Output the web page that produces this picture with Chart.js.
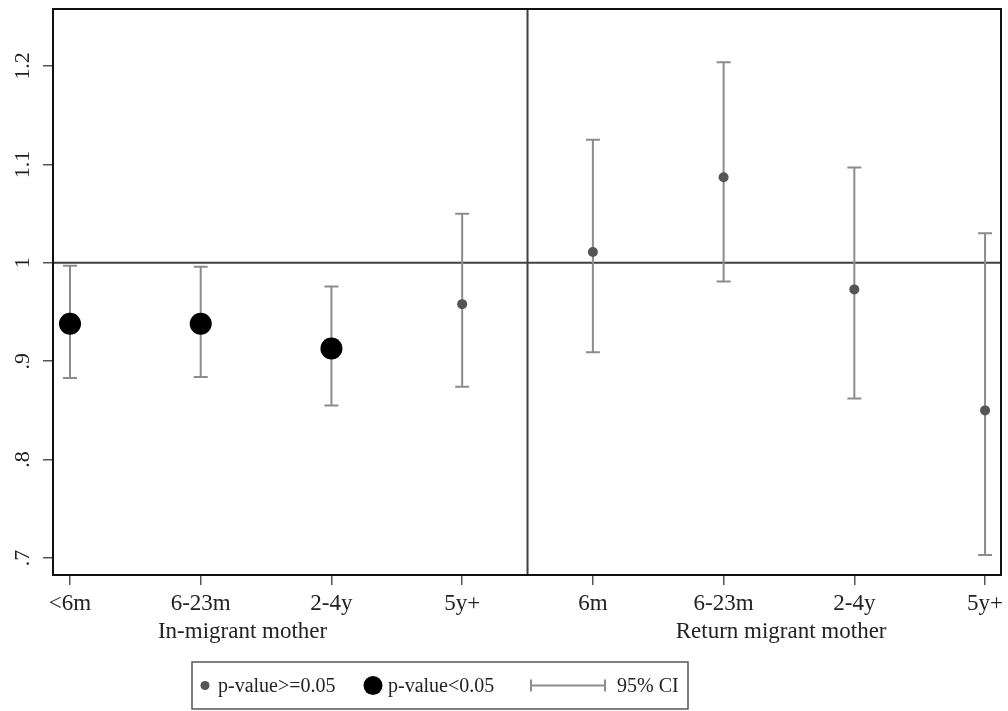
<!DOCTYPE html>
<html lang="en">
<head>
    <meta charset="UTF-8">
    <title>Odds ratios by mother's migration status</title>
    <script src="https://cdnjs.cloudflare.com/ajax/libs/Chart.js/4.4.1/chart.umd.min.js"></script>
    <style>
        body { margin: 0; background: #ffffff; }
        .wrap { position: relative; width: 1008px; height: 711px; }
    </style>
</head>
<body>
    <div class="wrap">
        <canvas id="chart" width="1008" height="711"></canvas>
    </div>

    <script>
        // Categories and estimates
        const categories = ['<6m', '6-23m', '2-4y', '5y+', '6m', '6-23m', '2-4y', '5y+'];
        const estimates = [0.938, 0.938, 0.913, 0.958, 1.011, 1.087, 0.973, 0.850];
        const ciLow = [0.883, 0.884, 0.855, 0.874, 0.909, 0.981, 0.862, 0.703];
        const ciHigh = [0.997, 0.996, 0.976, 1.050, 1.125, 1.204, 1.097, 1.030];
        const significant = [true, true, true, false, false, false, false, false];

        const yTickValues = [0.7, 0.8, 0.9, 1.0, 1.1, 1.2];
        const yTickLabels = ['.7', '.8', '.9', '1', '1.1', '1.2'];

        const groupLabels = ['In-migrant mother', 'Return migrant mother'];
        const groupCenters = [2.32, 6.44];
        const dividerAt = 4.5;
        const refLine = 1;

        const serif = "'Liberation Serif', 'DejaVu Serif', serif";
        const ciColor = '#8c8c8c';

        const xs = categories.map((c, i) => i + 1);
        const sigPoints = [], nonSigPoints = [];
        xs.forEach((x, i) => {
            (significant[i] ? sigPoints : nonSigPoints).push({ x: x, y: estimates[i] });
        });

        // error bars, reference lines, frame, y labels, group labels, legend
        const extras = {
            id: 'extras',
            beforeDatasetsDraw(chart) {
                const { ctx, chartArea: a, scales: { x, y } } = chart;
                ctx.save();
                // reference lines
                ctx.strokeStyle = '#404040';
                ctx.lineWidth = 2;
                ctx.beginPath();
                ctx.moveTo(a.left, y.getPixelForValue(refLine));
                ctx.lineTo(a.right, y.getPixelForValue(refLine));
                ctx.moveTo(x.getPixelForValue(dividerAt), a.top);
                ctx.lineTo(x.getPixelForValue(dividerAt), a.bottom);
                ctx.stroke();
                // confidence intervals
                ctx.strokeStyle = ciColor;
                ctx.lineWidth = 2;
                xs.forEach((v, i) => {
                    const px = x.getPixelForValue(v);
                    const top = y.getPixelForValue(ciHigh[i]);
                    const bot = y.getPixelForValue(ciLow[i]);
                    ctx.beginPath();
                    ctx.moveTo(px, top); ctx.lineTo(px, bot);
                    ctx.moveTo(px - 7, top); ctx.lineTo(px + 7, top);
                    ctx.moveTo(px - 7, bot); ctx.lineTo(px + 7, bot);
                    ctx.stroke();
                });
                ctx.restore();
            },
            afterDraw(chart) {
                const { ctx, chartArea: a, scales: { x, y } } = chart;
                ctx.save();
                // frame
                ctx.strokeStyle = '#111';
                ctx.lineWidth = 2;
                ctx.strokeRect(a.left, a.top, a.right - a.left, a.bottom - a.top);
                // y tick labels, rotated
                ctx.fillStyle = '#222';
                ctx.font = '22px ' + serif;
                ctx.textAlign = 'center';
                ctx.textBaseline = 'middle';
                yTickValues.forEach((v, i) => {
                    ctx.save();
                    ctx.translate(23, y.getPixelForValue(v));
                    ctx.rotate(-Math.PI / 2);
                    ctx.fillText(yTickLabels[i], 0, 0);
                    ctx.restore();
                });
                // group labels
                ctx.font = '23px ' + serif;
                groupLabels.forEach((t, i) => {
                    ctx.fillText(t, x.getPixelForValue(groupCenters[i]), 632);
                });
                // legend
                const lx = 192, ly = 662, lw = 496, lh = 47;
                ctx.strokeStyle = '#555';
                ctx.lineWidth = 1.5;
                ctx.strokeRect(lx, ly, lw, lh);
                const cy = ly + lh / 2;
                ctx.font = '20px ' + serif;
                ctx.textAlign = 'left';
                ctx.fillStyle = '#555';
                ctx.beginPath(); ctx.arc(205, cy, 4.5, 0, Math.PI * 2); ctx.fill();
                ctx.fillStyle = '#000';
                ctx.beginPath(); ctx.arc(373, cy, 9.5, 0, Math.PI * 2); ctx.fill();
                ctx.strokeStyle = ciColor;
                ctx.lineWidth = 2;
                ctx.beginPath();
                ctx.moveTo(531, cy); ctx.lineTo(605, cy);
                ctx.moveTo(531, cy - 6); ctx.lineTo(531, cy + 6);
                ctx.moveTo(605, cy - 6); ctx.lineTo(605, cy + 6);
                ctx.stroke();
                ctx.fillStyle = '#222';
                ctx.fillText('p-value>=0.05', 218, cy + 1);
                ctx.fillText('p-value<0.05', 388, cy + 1);
                ctx.fillText('95% CI', 617, cy + 1);
                ctx.restore();
            }
        };

        new Chart(document.getElementById('chart'), {
            type: 'scatter',
            data: {
                datasets: [{
                    label: 'p-value>=0.05',
                    data: nonSigPoints,
                    pointRadius: 5,
                    pointBackgroundColor: '#555555',
                    pointBorderWidth: 0
                }, {
                    label: 'p-value<0.05',
                    data: sigPoints,
                    pointRadius: 11,
                    pointBackgroundColor: '#000000',
                    pointBorderWidth: 0
                }]
            },
            options: {
                responsive: false,
                animation: false,
                layout: { autoPadding: false, padding: { top: 9, right: 7, left: 0, bottom: 0 } },
                plugins: {
                    legend: { display: false },
                    tooltip: { enabled: false }
                },
                scales: {
                    x: {
                        type: 'linear',
                        min: 0.87,
                        max: 8.122,
                        afterBuildTicks: s => { s.ticks = xs.map(v => ({ value: v })); },
                        afterFit: s => { s.height = 136; s.paddingLeft = 0; s.paddingRight = 0; },
                        ticks: {
                            autoSkip: false,
                            maxRotation: 0,
                            padding: 5,
                            color: '#222',
                            font: { family: serif, size: 23 },
                            callback: v => categories[v - 1]
                        },
                        grid: { drawOnChartArea: false, tickLength: 10, color: '#555', lineWidth: 1.5 },
                        border: { display: false }
                    },
                    y: {
                        min: 0.6827,
                        max: 1.258,
                        afterBuildTicks: s => { s.ticks = yTickValues.map(v => ({ value: v })); },
                        afterFit: s => { s.width = 53; s.paddingTop = 0; s.paddingBottom = 0; },
                        ticks: { display: false },
                        grid: { drawOnChartArea: false, tickLength: 10, color: '#555', lineWidth: 1.5 },
                        border: { display: false }
                    }
                }
            },
            plugins: [extras]
        });
    </script>
</body>
</html>
